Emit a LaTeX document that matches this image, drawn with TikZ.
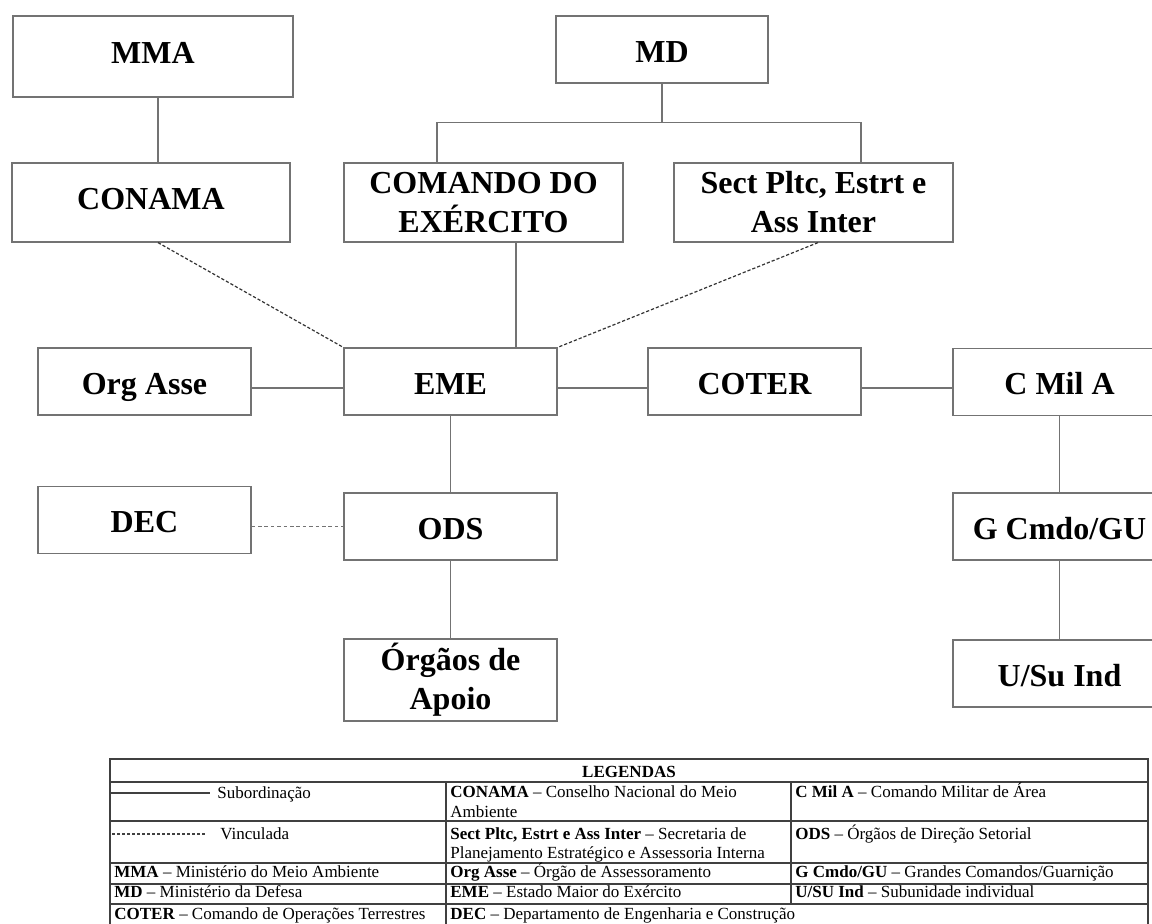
\documentclass[tikz,border=0pt]{standalone}
\usepackage{fontspec}
\setmainfont{Liberation Serif}
\usepackage{tikz}
\definecolor{boxGray}{gray}{0.45}
\definecolor{ruleGray}{gray}{0.25}

\begin{document}
\begin{tikzpicture}[x=0.5pt,y=-0.5pt,%%
  boxStyle/.style={draw=boxGray,line width=0.6pt,minimum width=106.5pt,minimum height=33.5pt,inner sep=1pt,align=center,font=\fontsize{16}{19.5}\selectfont\bfseries},%%
  wideStyle/.style={boxStyle,minimum width=139.5pt,minimum height=39.5pt},%%
  lowText/.style={text height=12.5pt,text depth=0pt},%%
  highText/.style={text height=10.5pt,text depth=4pt},%%
  lineStyle/.style={-,draw=boxGray,line width=0.6pt},%%
  linkStyle/.style={-,draw=black!80,line width=0.6pt,dash pattern=on 1.6pt off 1pt},%%
  dotStyle/.style={-,draw=boxGray,line width=0.6pt,dash pattern=on 1.8pt off 1.4pt},%%
  ruleStyle/.style={-,draw=ruleGray,line width=0.6pt},%%
  legendStyle/.style={anchor=base west,inner sep=0pt,font=\fontsize{8.5}{10}\selectfont}%%
]
%%
\useasboundingbox (0,0) rectangle (1152,923);
%%
%% Upper level.
\node[wideStyle,highText,minimum width=140pt,minimum height=40.5pt] (mma) at (153,56.5) {MMA};
\node[boxStyle,lowText,minimum width=106pt] (md) at (662,49.5) {MD};
%%
%% Second level.
\node[wideStyle,highText,minimum width=139pt] (conama) at (151,202.5) {CONAMA};
\node[wideStyle] (comando) at (483.5,202.5) {COMANDO DO\\EXÉRCITO};
\node[wideStyle] (sect) at (813.5,202.5) {Sect Pltc, Estrt e\\Ass Inter};
%%
%% The EME row.
\node[boxStyle,lowText] (orgAsse) at (144.5,381.5) {Org Asse};
\node[boxStyle,lowText] (eme) at (450.5,381.5) {EME};
\node[boxStyle,lowText] (coter) at (754.5,381.5) {COTER};
\node[boxStyle,lowText] (cMilA) at (1059.5,382) {C Mil A};
%%
%% Lower rows.
\node[boxStyle,lowText] (dec) at (144.5,520) {DEC};
\node[boxStyle,lowText] (ods) at (450.5,526.5) {ODS};
\node[boxStyle,lowText] (gCmdo) at (1059.5,526.5) {G Cmdo/GU};
\node[boxStyle,minimum height=41pt] (orgaos) at (450.5,680) {Órgãos de\\Apoio};
\node[boxStyle,lowText] (uSu) at (1059.5,673.5) {U/Su Ind};
%%
%% Subordination lines.
\draw[lineStyle] ([xshift=2.5pt]mma.south) -- ([xshift=3.5pt]conama.north);
\coordinate (mdBus) at ([yshift=-19.5pt]md.south);
\draw[lineStyle] (md.south) -- (mdBus);
\draw[lineStyle] ([xshift=-23.25pt]comando.north) |- (mdBus) -| ([xshift=23.75pt]sect.north);
\draw[lineStyle] ([xshift=16.25pt]comando.south) -- ([xshift=32.75pt]eme.north);
\draw[lineStyle] ([yshift=-3.25pt]orgAsse.east) -- ([yshift=-3.25pt]eme.west);
\draw[lineStyle] ([yshift=-3.25pt]eme.east) -- ([yshift=-3.25pt]coter.west);
\draw[lineStyle] ([yshift=-3.25pt]coter.east) -- ([yshift=-3pt]cMilA.west);
\draw[lineStyle] (eme.south) -- (ods.north);
\draw[lineStyle] (ods.south) -- (orgaos.north);
\draw[lineStyle] (cMilA.south) -- (gCmdo.north);
\draw[lineStyle] (gCmdo.south) -- (uSu.north);
%%
%% Linked bodies.
\draw[linkStyle] ([xshift=3.5pt]conama.south) -- (eme.north west);
\draw[linkStyle] ([xshift=2.25pt]sect.south) -- (eme.north east);
\draw[dotStyle] (dec.east |- ods.west) -- (ods.west);
%%
%% The legend table.
\pgfmathsetmacro{\tabL}{110}
\pgfmathsetmacro{\tabR}{1148}
\pgfmathsetmacro{\colA}{446}
\pgfmathsetmacro{\colB}{791}
\pgfmathsetmacro{\rowTop}{759}
\pgfmathsetmacro{\rowBot}{935}
\draw[ruleStyle] (\tabL,\rowTop) rectangle (\tabR,\rowBot);
\draw[ruleStyle,line width=1pt] (\tabL,\rowTop) -- (\tabR,\rowTop);
\foreach \yy in {782,821,863,884,904}
  \draw[ruleStyle] (\tabL,\yy) -- (\tabR,\yy);
\draw[ruleStyle] (\colA,782) -- (\colA,\rowBot);
\draw[ruleStyle] (\colB,782) -- (\colB,904);
%%
\node[legendStyle,anchor=base] (legTitle) at (629,777) {\textbf{LEGENDAS}};
%% Kinds of line.
\draw[ruleStyle] (\tabL,793) -- (210,793);
\node[legendStyle] (legSub) at (217,798) {Subordinação};
\draw[ruleStyle,dash pattern=on 1.5pt off 1pt] (\tabL+2,834) -- (205,834);
\node[legendStyle] (legVinc) at (220,839) {Vinculada};
%% First column.
\node[legendStyle] (legMma) at (114,877) {\textbf{MMA} -- Ministério do Meio Ambiente};
\node[legendStyle] (legMd) at (114,897) {\textbf{MD} -- Ministério da Defesa};
\node[legendStyle] (legCoter) at (114,919) {\textbf{COTER} -- Comando de Operações Terrestres};
%% Second column.
\node[legendStyle] (legConama) at (450,797) {\textbf{CONAMA} -- Conselho Nacional do Meio};
\node[legendStyle] (legConamaB) at (450,817) {Ambiente};
\node[legendStyle] (legSect) at (450,839) {\textbf{Sect Pltc, Estrt e Ass Inter} -- Secretaria de};
\node[legendStyle] (legSectB) at (450,858) {Planejamento Estratégico e Assessoria Interna};
\node[legendStyle] (legOrgAsse) at (450,877) {\textbf{Org Asse} -- Órgão de Assessoramento};
\node[legendStyle] (legEme) at (450,897) {\textbf{EME} -- Estado Maior do Exército};
\node[legendStyle] (legDec) at (450,919) {\textbf{DEC} -- Departamento de Engenharia e Construção};
%% Third column.
\node[legendStyle] (legCMilA) at (795,797) {\textbf{C Mil A} -- Comando Militar de Área};
\node[legendStyle] (legOds) at (795,839) {\textbf{ODS} -- Órgãos de Direção Setorial};
\node[legendStyle] (legGCmdo) at (795,877) {\textbf{G Cmdo/GU} -- Grandes Comandos/Guarnição};
\node[legendStyle] (legUSu) at (795,897) {\textbf{U/SU Ind} -- Subunidade individual};
\end{tikzpicture}
\end{document}
